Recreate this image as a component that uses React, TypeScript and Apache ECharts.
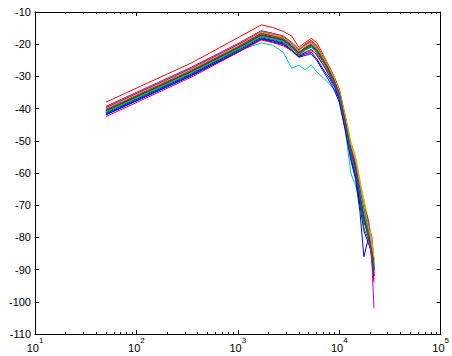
import React, { useEffect, useRef } from "react";
import * as echarts from "echarts";

// Frequency grid (Hz)
const FREQ = [50, 350, 1000, 1700, 2200, 2800, 3400, 4000, 4600, 5300, 6000, 7000, 8000, 9000, 10000, 11500, 13000, 14500, 16000, 17500, 19500, 21000, 22000];

// Level curves (dB), one array per line
const S00 = [-41.8, -29.6, -22.3, -18.3, -19.0, -19.9, -21.9, -23.8, -22.6, -21.6, -23.4, -26.6, -29.8, -33.0, -36.5, -45.5, -55.0, -60.0, -69.0, -75.0, -80.0, -86.0, -92.0];
const S01 = [-41.0, -28.8, -21.5, -17.5, -18.3, -19.1, -21.1, -23.1, -21.7, -20.7, -22.3, -25.5, -28.7, -32.0, -35.5, -44.5, -53.5, -59.0, -67.0, -74.0, -79.0, -82.0, -89.0];
const S02 = [-38.0, -25.8, -18.0, -14.0, -14.8, -16.0, -17.5, -21.0, -19.5, -18.2, -19.5, -23.5, -27.0, -30.5, -34.0, -43.0, -52.0, -57.0, -64.0, -70.0, -76.0, -86.0, -93.0];
const S03 = [-41.3, -29.0, -22.0, -19.6, -20.3, -22.5, -27.5, -26.5, -28.0, -26.5, -28.6, -30.5, -32.3, -34.3, -37.0, -47.0, -60.0, -64.0, -69.0, -74.0, -80.0, -85.0, -90.0];
const S04 = [-39.5, -27.3, -20.0, -16.0, -16.8, -17.6, -19.8, -22.0, -20.4, -19.4, -21.0, -24.2, -27.4, -30.8, -34.4, -43.0, -52.0, -57.0, -64.0, -70.0, -79.0, -84.0, -90.0];
const S05 = [-39.8, -27.6, -20.2, -15.9, -16.6, -17.5, -19.5, -21.6, -20.0, -19.2, -20.6, -23.8, -27.0, -30.2, -33.8, -42.0, -50.0, -55.0, -62.0, -69.0, -76.0, -82.0, -88.0];
const S06 = [-40.2, -28.0, -20.7, -16.7, -17.5, -18.3, -20.3, -22.5, -21.0, -19.9, -21.5, -24.7, -27.9, -31.2, -34.7, -43.5, -52.5, -58.0, -66.0, -73.0, -80.0, -83.0, -88.0];
const S07 = [-41.5, -29.3, -22.0, -18.0, -18.8, -19.6, -21.8, -24.0, -23.0, -22.5, -24.5, -28.0, -30.5, -33.5, -37.0, -46.0, -55.0, -61.0, -70.0, -78.0, -82.0, -85.0, -91.0];
const S08 = [-40.6, -28.4, -21.1, -17.1, -17.9, -18.7, -20.7, -22.8, -21.3, -20.3, -21.9, -25.1, -28.3, -31.6, -35.1, -44.0, -53.0, -58.5, -67.0, -75.0, -79.0, -84.0, -90.0];
const S09 = [-40.0, -27.8, -20.5, -16.5, -17.3, -18.1, -20.0, -22.0, -20.0, -18.8, -20.5, -24.3, -27.5, -30.8, -34.3, -43.0, -52.0, -57.5, -65.0, -71.0, -77.0, -85.0, -92.0];
const S10 = [-40.8, -28.6, -21.3, -17.3, -18.1, -18.9, -20.9, -23.0, -21.5, -20.5, -22.1, -25.5, -29.0, -32.5, -36.0, -45.5, -54.5, -59.5, -67.0, -73.0, -78.0, -83.0, -89.0];
const S11 = [-39.3, -27.1, -19.8, -15.8, -16.6, -17.4, -19.4, -21.6, -20.2, -19.2, -20.8, -24.0, -27.2, -30.5, -34.0, -43.0, -51.5, -56.5, -64.0, -71.0, -76.0, -80.0, -87.0];
const S12 = [-39.6, -27.4, -20.1, -16.1, -16.9, -17.7, -19.7, -21.8, -20.3, -19.3, -20.9, -24.1, -27.3, -30.6, -34.1, -42.5, -51.0, -55.5, -63.5, -68.0, -75.0, -81.0, -87.0];
const S13 = [-40.5, -28.3, -21.0, -17.0, -17.8, -18.6, -20.6, -22.6, -21.2, -20.2, -21.8, -25.0, -28.2, -31.5, -35.0, -44.0, -53.0, -58.0, -66.0, -72.0, -78.0, -84.0, -91.0];
const S14 = [-42.0, -29.8, -22.5, -18.5, -19.3, -20.1, -22.1, -24.0, -23.5, -23.0, -25.0, -28.5, -31.5, -34.5, -38.0, -47.0, -56.0, -62.0, -72.0, -86.0, -80.0, -84.0, -90.0];
const S15 = [-41.2, -29.0, -21.7, -17.7, -18.5, -19.3, -21.3, -23.3, -21.9, -20.9, -22.5, -25.7, -28.9, -32.2, -35.7, -45.0, -54.0, -59.5, -68.0, -77.0, -81.0, -84.0, -89.0];
const S16 = [-42.5, -30.2, -22.6, -18.7, -19.5, -20.5, -22.0, -23.5, -22.5, -22.0, -23.0, -26.5, -29.5, -32.5, -36.0, -45.0, -53.5, -59.0, -66.5, -73.0, -80.0, -87.0, -94.0];
const S17 = [-41.0, -28.8, -21.5, -17.5, -18.3, -19.1, -21.1, -23.0, -21.5, -20.5, -22.0, -25.3, -28.5, -31.8, -35.3, -44.5, -53.5, -58.5, -66.0, -72.0, -79.0, -85.0, -91.0];
const S18 = [-39.7, -27.5, -20.2, -16.2, -17.0, -17.8, -19.8, -21.8, -20.4, -19.4, -21.0, -24.2, -27.4, -30.7, -34.2, -43.0, -52.0, -57.0, -64.5, -70.0, -75.0, -88.0, -102.0];
const S19 = [-40.0, -27.8, -20.5, -16.3, -17.1, -17.9, -19.9, -22.0, -20.5, -19.5, -21.1, -24.3, -27.5, -30.8, -34.3, -42.5, -51.0, -56.0, -63.0, -70.0, -77.0, -83.0, -86.0];
const S20 = [-40.7, -28.5, -21.2, -17.2, -18.0, -18.8, -20.8, -22.8, -21.4, -20.4, -22.0, -25.2, -28.4, -31.7, -35.2, -44.5, -53.5, -58.5, -67.0, -74.0, -79.0, -85.0, -92.0];

const ALL_SERIES = [S00, S01, S02, S03, S04, S05, S06, S07, S08, S09, S10, S11, S12, S13, S14, S15, S16, S17, S18, S19, S20];

// MATLAB default color order
const COLORS = ["#0000ff", "#008000", "#ff0000", "#00bfbf", "#bf00bf", "#bfbf00", "#404040"];

const X_MIN = 10;
const X_MAX = 100000;
const Y_MIN = -110;
const Y_MAX = -10;
const Y_STEP = 10;

const FONT = "Liberation Sans, Arial, Helvetica, sans-serif";

export default function App() {
  const ref = useRef<HTMLDivElement>(null);
  useEffect(() => {
    if (!ref.current) return;
    const chart = echarts.init(ref.current, null, { renderer: "svg" });
    const axisLine = { show: true, lineStyle: { color: "#000", width: 1 } };
    const xCommon = {
      type: "log" as const,
      logBase: 10,
      min: X_MIN,
      max: X_MAX,
      axisLine,
      splitLine: { show: false },
      minorSplitLine: { show: false },
      axisTick: { show: true, inside: true, length: 4, lineStyle: { color: "#000" } },
      minorTick: { show: true, splitNumber: 9, length: 2, lineStyle: { color: "#000" } },
    };
    const yCommon = {
      type: "value" as const,
      min: Y_MIN,
      max: Y_MAX,
      interval: Y_STEP,
      axisLine,
      splitLine: { show: false },
      axisTick: { show: true, inside: true, length: 4, lineStyle: { color: "#000" } },
    };
    chart.setOption({
      animation: false,
      backgroundColor: "#fff",
      grid: { left: 35, right: 9, top: 12, bottom: 22, containLabel: false },
      xAxis: [
        {
          ...xCommon,
          position: "bottom",
          axisLabel: {
            show: true,
            margin: 2,
            showMinLabel: true,
            showMaxLabel: true,
            formatter: (v: number) => "{b|10}{s|" + Math.round(Math.log10(v)) + "}",
            rich: {
              b: { fontSize: 11, fontFamily: FONT, color: "#000", lineHeight: 17, verticalAlign: "bottom" },
              s: { fontSize: 8, fontFamily: FONT, color: "#000", lineHeight: 17, verticalAlign: "top" },
            },
          },
        },
        {
          ...xCommon,
          position: "top",
          axisLabel: { show: false },
        },
      ],
      yAxis: [
        {
          ...yCommon,
          position: "left",
          axisLabel: {
            show: true,
            margin: 4,
            showMinLabel: true,
            showMaxLabel: true,
            fontSize: 11,
            fontFamily: FONT,
            color: "#000",
          },
        },
        {
          ...yCommon,
          position: "right",
          axisLabel: { show: false },
        },
      ],
      series: ALL_SERIES.map((vals, i) => ({
        type: "line",
        xAxisIndex: 0,
        yAxisIndex: 0,
        data: FREQ.map((f, j) => [f, vals[j]]),
        showSymbol: false,
        symbol: "none",
        lineStyle: { width: 1, color: COLORS[i % COLORS.length] },
        itemStyle: { color: COLORS[i % COLORS.length] },
        z: 2,
      })),
    });
    return () => chart.dispose();
  }, []);
  return <div ref={ref} style={{ position: "fixed", left: 0, top: 0, width: 452, height: 356 }} />;
}
